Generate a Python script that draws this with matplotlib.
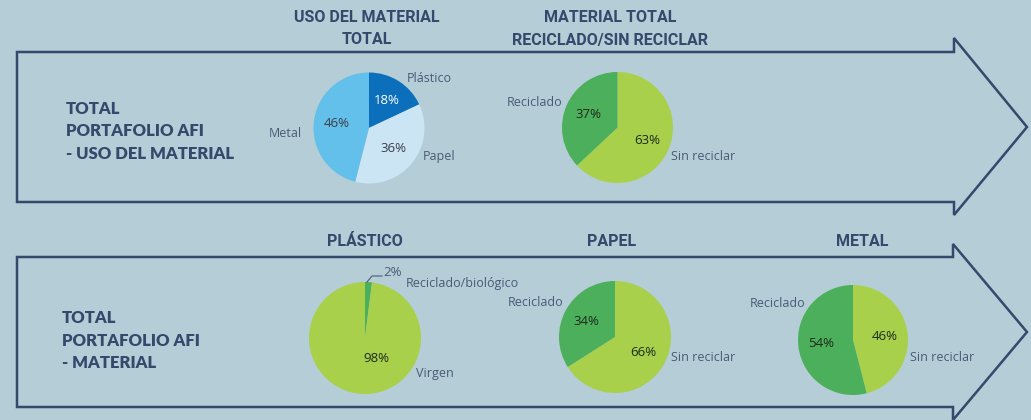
import matplotlib.pyplot as plt
from matplotlib.patches import Polygon

# ---- data ----
uso_labels = ['Plástico', 'Papel', 'Metal']
uso_vals = [18, 36, 46]
total_labels = ['Sin reciclar', 'Reciclado']
total_vals = [63, 37]
plastico_labels = ['Reciclado/biológico', 'Virgen']
plastico_vals = [2, 98]
papel_labels = ['Sin reciclar', 'Reciclado']
papel_vals = [66, 34]
metal_labels = ['Sin reciclar', 'Reciclado']
metal_vals = [46, 54]

BG = '#b4cdd6'
NAVY = '#34496b'
TXT = '#4a5a78'
DARK_BLUE, LIGHT_BLUE, MID_BLUE = '#0b6fbb', '#cce5f5', '#63c0ea'
DARK_GREEN, LIGHT_GREEN = '#4caf5b', '#a9d04b'

W, H = 1031, 420

fig = plt.figure(figsize=(W / 100, H / 100), dpi=100, facecolor=BG)
ax = fig.add_axes([0, 0, 1, 1])
ax.set_facecolor(BG)


def Y(y):
    return H - y


# arrows (outline shapes)
top_arrow = [(17, 52), (954, 52), (954, 38), (1027, 127), (954, 215), (954, 202), (17, 202)]
bot_arrow = [(17, 257), (953, 257), (953, 244), (1027, 332), (953, 420), (953, 407), (17, 407)]
for pts in (top_arrow, bot_arrow):
    ax.add_patch(Polygon([(x, Y(y)) for x, y in pts], closed=True, fill=False,
                         edgecolor=NAVY, lw=1.8, joinstyle='miter'))

# left labels
left_font = dict(family=['Lato', 'DejaVu Sans'], fontweight='heavy', fontsize=12, color=NAVY)
for i, s in enumerate(['TOTAL', 'PORTAFOLIO AFI', '- USO DEL MATERIAL']):
    ax.text(66, Y(109 + 22.5 * i), s, va='center', ha='left', **left_font)
for i, s in enumerate(['TOTAL', 'PORTAFOLIO AFI', '- MATERIAL']):
    ax.text(62, Y(318 + 22.5 * i), s, va='center', ha='left', **left_font)

# titles
title_font = dict(family=['Roboto', 'DejaVu Sans'], fontweight='bold', fontsize=11.5,
                  color=NAVY, ha='center', va='center')
ax.text(367, Y(18), 'USO DEL MATERIAL', **title_font)
ax.text(367, Y(40), 'TOTAL', **title_font)
ax.text(610, Y(18), 'MATERIAL TOTAL', **title_font)
ax.text(610, Y(40), 'RECICLADO/SIN RECICLAR', **title_font)
ax.text(365, Y(242), 'PLÁSTICO', **title_font)
ax.text(612, Y(242), 'PAPEL', **title_font)
ax.text(862, Y(242), 'METAL', **title_font)

lab_font = dict(family=['Open Sans', 'DejaVu Sans'], fontsize=9, color=TXT)
pct_size = 9.5

# pies: values, labels, colors, centre, radius, label offsets (in radius units),
# label alignment, percent colours
pies = [
    (uso_vals, uso_labels, [DARK_BLUE, LIGHT_BLUE, MID_BLUE], (369, 128), 55.5,
     [(0.68, 0.9), (0.97, -0.52), (-1.21, -0.1)], ['left', 'left', 'right'],
     ['white', '#3a3f4a', '#3a3f4a']),
    (total_vals, total_labels, [LIGHT_GREEN, DARK_GREEN], (617.5, 127.5), 55.5,
     [(0.96, -0.52), (-1.0, 0.45)], ['left', 'right'], ['#1e2a1a', '#1e2a1a']),
    (plastico_vals, plastico_labels, [DARK_GREEN, LIGHT_GREEN], (365, 338), 56,
     [(0.73, 0.98), (0.91, -0.64)], ['left', 'left'], ['#1e2a1a', '#1e2a1a']),
    (papel_vals, papel_labels, [LIGHT_GREEN, DARK_GREEN], (615, 337), 56,
     [(1.0, -0.36), (-0.93, 0.61)], ['left', 'right'], ['#1e2a1a', '#1e2a1a']),
    (metal_vals, metal_labels, [LIGHT_GREEN, DARK_GREEN], (853, 340), 55,
     [(1.04, -0.31), (-0.87, 0.67)], ['left', 'right'], ['#1e2a1a', '#1e2a1a']),
]

for vals, labels, colors, (cx, cy), r, offs, aligns, pcols in pies:
    wedges, texts, autotexts = ax.pie(vals, labels=labels, colors=colors, startangle=90,
                                      counterclock=False, center=(cx, Y(cy)), radius=r,
                                      autopct='%d%%', pctdistance=0.58,
                                      wedgeprops=dict(linewidth=0), textprops=lab_font)
    for t, (dx, dy), ha in zip(texts, offs, aligns):
        t.set_position((cx + dx * r, Y(cy) + dy * r))
        t.set_ha(ha)
        t.set_va('center')
    for t, c in zip(autotexts, pcols):
        t.set_color(c)
        t.set_fontsize(pct_size)
    if vals is plastico_vals:
        # tiny slice: percent label pulled outside with a leader line
        small, big = autotexts
        small.set_position((383, Y(272)))
        small.set_ha('left')
        small.set_color(TXT)
        ax.plot([367, 372, 382], [Y(282), Y(276), Y(276)], color=TXT, lw=0.8)
        big.set_position((376, Y(359)))

ax.set_xlim(0, W)
ax.set_ylim(0, H)
ax.set_aspect('auto')
ax.axis('off')

fig.savefig('out.png', dpi=100, facecolor=BG)
